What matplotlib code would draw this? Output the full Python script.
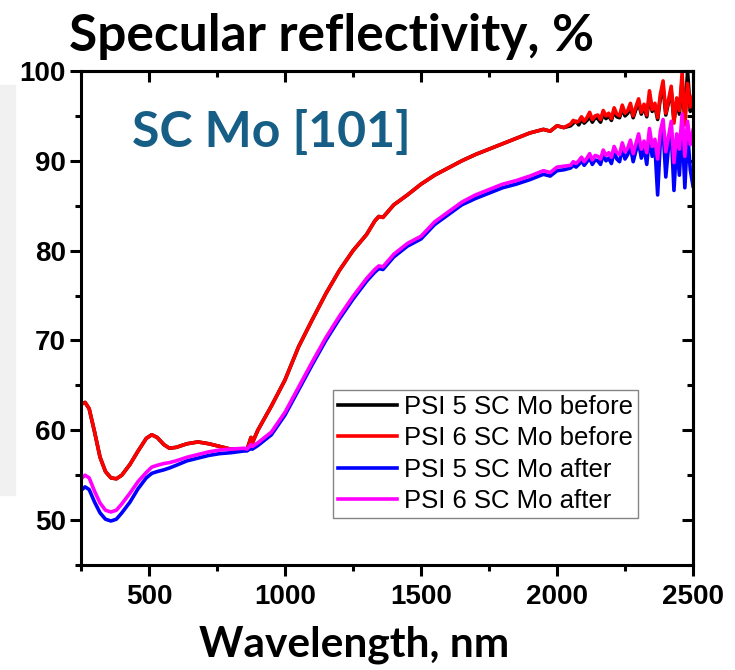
import matplotlib
matplotlib.use("Agg")
import matplotlib.pyplot as plt
from matplotlib.patches import Rectangle
from matplotlib.ticker import MultipleLocator, NullFormatter

# wavelengths (nm) for the smooth part of the spectra
wl_uv = [250, 265, 280, 300, 320, 340, 360, 380, 400, 430, 460, 490, 510, 530,
         555, 575, 600, 640, 680, 720, 760, 800, 850]
wl_ir = [860, 875, 880, 900, 950, 1000, 1050, 1100, 1150, 1200, 1250, 1300, 1330,
         1345, 1360, 1400, 1450, 1500, 1550, 1600, 1650, 1700, 1750, 1800, 1850,
         1900, 1950, 1975, 2000, 2025]
# noisy tail
wl_tail = [2050, 2060, 2070, 2080, 2090, 2100, 2110, 2120, 2130, 2140, 2150, 2160,
           2170, 2180, 2190, 2200, 2210, 2220, 2230, 2240, 2250, 2260, 2270, 2280,
           2290, 2300, 2310, 2320, 2330, 2340, 2350, 2360, 2370, 2380, 2390, 2400,
           2410, 2420, 2430, 2440, 2450, 2460, 2470, 2480, 2490, 2500]

# PSI 6 before (red)
red_uv = [62.9, 63.1, 62.4, 59.8, 57.0, 55.4, 54.7, 54.6, 55.0, 56.2, 57.7, 59.1, 59.5,
          59.2, 58.4, 58.0, 58.1, 58.5, 58.7, 58.5, 58.2, 57.9, 57.8]
red_ir = [57.8, 59.2, 58.6, 60.0, 62.7, 65.6, 69.3, 72.3, 75.2, 77.8, 80.0, 81.8, 83.3,
          83.8, 83.7, 85.1, 86.2, 87.4, 88.4, 89.2, 90.0, 90.7, 91.3, 91.9, 92.5,
          93.1, 93.5, 93.3, 93.9, 93.7]
red_tail = [94.1, 94.5, 94.3, 94.4, 94.9, 94.4, 94.8, 95.4, 94.6, 95.0, 95.1, 94.6,
            95.6, 95.0, 95.3, 94.7, 95.9, 95.2, 95.0, 96.2, 95.3, 95.6, 96.4, 95.0,
            96.0, 96.9, 95.4, 96.3, 95.1, 97.8, 95.7, 96.4, 94.8, 97.4, 98.9, 95.3,
            96.8, 98.3, 94.2, 97.0, 95.6, 99.8, 94.0, 98.6, 96.0, 97.2]

# PSI 5 before (black), almost identical to red
black_tail = [93.9, 94.2, 94.4, 94.0, 94.6, 94.2, 94.5, 94.9, 94.3, 94.8, 94.7, 94.3,
              95.2, 94.7, 95.0, 94.5, 95.5, 94.9, 94.8, 95.8, 95.0, 95.3, 96.0, 94.8,
              95.7, 96.4, 95.2, 96.0, 94.9, 97.2, 95.5, 96.1, 94.6, 97.0, 98.2, 95.1,
              96.5, 97.8, 94.5, 96.6, 95.2, 99.0, 94.4, 100.0, 95.5, 96.5]

# PSI 6 after (magenta)
mag_uv = [54.6, 55.0, 54.7, 53.2, 51.9, 51.1, 50.9, 51.1, 51.8, 53.0, 54.3, 55.3, 55.9,
          56.1, 56.3, 56.4, 56.6, 57.0, 57.3, 57.6, 57.8, 57.9, 58.0]
mag_ir = [57.9, 58.4, 58.2, 58.6, 59.8, 62.0, 64.8, 67.6, 70.3, 72.7, 74.9, 76.9, 77.9,
          78.3, 78.2, 79.6, 80.8, 81.6, 83.2, 84.3, 85.4, 86.2, 86.8, 87.4, 87.8,
          88.3, 88.9, 88.7, 89.3, 89.4]
mag_tail = [89.5, 89.9, 89.7, 90.0, 90.4, 89.9, 90.3, 90.8, 90.1, 90.6, 90.5, 90.2,
            91.2, 90.6, 90.9, 90.4, 91.6, 90.9, 90.7, 92.0, 91.0, 91.4, 92.3, 90.8,
            91.9, 93.0, 91.3, 92.2, 90.9, 93.6, 91.6, 92.4, 90.2, 93.3, 94.6, 91.0,
            92.7, 94.4, 89.8, 93.0, 91.3, 95.2, 90.5, 94.4, 91.8, 93.4]

# PSI 5 after (blue)
blue_uv = [53.3, 53.7, 53.4, 52.0, 50.8, 50.1, 49.9, 50.1, 50.8, 52.0, 53.5, 54.7, 55.2,
           55.4, 55.6, 55.8, 56.1, 56.6, 56.9, 57.2, 57.4, 57.5, 57.7]
blue_ir = [57.7, 58.0, 57.9, 58.3, 59.5, 61.7, 64.5, 67.3, 70.0, 72.4, 74.6, 76.6, 77.6,
           78.0, 77.9, 79.3, 80.5, 81.3, 82.9, 84.0, 85.1, 85.8, 86.4, 87.0, 87.4,
           87.9, 88.5, 88.3, 88.9, 89.0]
blue_tail = [89.2, 89.5, 89.3, 89.6, 90.0, 89.5, 89.9, 90.3, 89.6, 90.1, 90.0, 89.6,
             90.7, 90.0, 90.3, 89.7, 91.0, 90.2, 89.9, 91.4, 90.2, 90.7, 91.6, 89.9,
             91.1, 92.1, 90.3, 91.5, 89.6, 92.7, 90.5, 91.6, 86.2, 92.3, 93.5, 88.2,
             91.6, 93.1, 86.7, 92.0, 88.4, 94.0, 87.0, 93.2, 89.0, 87.2]

labels = ["PSI 5 SC Mo before", "PSI 6 SC Mo before",
          "PSI 5 SC Mo after", "PSI 6 SC Mo after"]

wl = wl_uv + wl_ir + wl_tail
series = [
    (red_uv + red_ir + black_tail, "black"),
    (red_uv + red_ir + red_tail, "#ff0000"),
    (blue_uv + blue_ir + blue_tail, "#0000ff"),
    (mag_uv + mag_ir + mag_tail, "#ff00ff"),
]

fig = plt.figure(figsize=(7.35, 6.7), dpi=100)
fig.patch.set_facecolor("white")

# faint grey slide background on the left
fig.patches.append(Rectangle((0, 1 - 495 / 670), 15 / 735, 410 / 670,
                             transform=fig.transFigure, color="#f1f1f1", zorder=0))

ax = fig.add_axes([81 / 735, 1 - 565 / 670, 612 / 735, 494 / 670])

for (y, c), lab in zip(series, labels):
    ax.plot(wl, y, color=c, lw=2.6, label=lab)

ax.set_xlim(250, 2500)
ax.set_ylim(45, 100)

for s in ax.spines.values():
    s.set_linewidth(2.2)

tickfont = matplotlib.font_manager.FontProperties(family="Liberation Sans",
                                                  weight="bold", size=20)

# bottom/left ticks point out, top/right ticks point in (Origin style)
ax.xaxis.set_major_locator(MultipleLocator(500))
ax.xaxis.set_minor_locator(MultipleLocator(250))
ax.yaxis.set_major_locator(MultipleLocator(10))
ax.yaxis.set_minor_locator(MultipleLocator(5))
ax.tick_params(which="major", length=8, width=2.2, direction="out")
ax.tick_params(which="minor", length=4.5, width=2.2, direction="out")
ax.tick_params(axis="x", pad=6)
ax.tick_params(axis="y", pad=3)
for lbl in ax.get_xticklabels() + ax.get_yticklabels():
    lbl.set_fontproperties(tickfont)

top = ax.secondary_xaxis("top")
top.xaxis.set_major_locator(MultipleLocator(500))
top.xaxis.set_minor_locator(MultipleLocator(250))
top.xaxis.set_major_formatter(NullFormatter())
top.tick_params(which="major", length=8, width=2.2, direction="in")
top.tick_params(which="minor", length=4.5, width=2.2, direction="in")
right = ax.secondary_yaxis("right")
right.yaxis.set_major_locator(MultipleLocator(10))
right.yaxis.set_minor_locator(MultipleLocator(5))
right.yaxis.set_major_formatter(NullFormatter())
right.tick_params(which="major", length=8, width=2.2, direction="in")
right.tick_params(which="minor", length=4.5, width=2.2, direction="in")
for sec in (top, right):
    for s in sec.spines.values():
        s.set_linewidth(2.2)

leg = ax.legend(loc="lower right", bbox_to_anchor=(557 / 612, 47 / 494),
                prop={"family": "Liberation Sans", "size": 18.5},
                frameon=True, fancybox=False, edgecolor="#666666",
                handlelength=2.3, handletextpad=0.27, labelspacing=0.28,
                borderpad=0.2, borderaxespad=0)
leg.get_frame().set_linewidth(1.0)
for h in leg.get_lines():
    h.set_linewidth(2.6)

fig.text(332 / 735, 1 - 37 / 670, "Specular reflectivity, %", ha="center", va="center",
         family="Lato", weight="bold", size=37)
fig.text(354 / 735, 1 - 645 / 670, "Wavelength, nm", ha="center", va="center",
         family="Lato", weight="bold", size=30.5)
ax.text((271 - 81) / 612, 1 - (132 - 71) / 494, "SC Mo [101]",
        transform=ax.transAxes, ha="center", va="center",
        family="Lato", weight="bold", size=36, color="#175e86")

fig.savefig("out.png", dpi=100)
